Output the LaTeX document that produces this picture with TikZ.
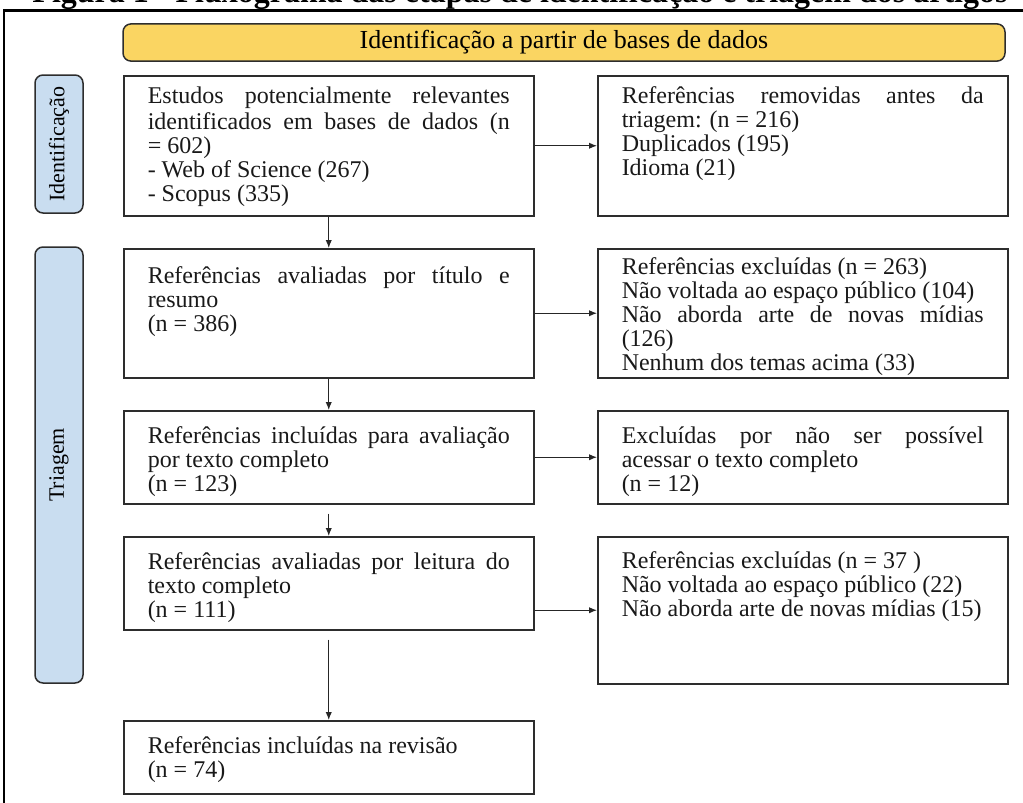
\documentclass[tikz,border=0pt]{standalone}
\usepackage{fontspec}
\setmainfont{Liberation Serif}
\usetikzlibrary{positioning, arrows.meta}

\definecolor{barfill}{RGB}{250,213,98}
\definecolor{sidefill}{RGB}{201,221,240}
\definecolor{edgegray}{RGB}{45,45,45}

% text block of a box: height, space above first line, text
\newcommand{\bxt}[3]{\parbox[t][#1][t]{181pt}{\vspace*{#2}\strut #3}}

\begin{document}
\begin{tikzpicture}[x=0.5pt, y=-0.5pt,
    prbox/.style={draw=edgegray, line width=0.75pt, inner xsep=12pt, inner ysep=0pt, anchor=north west, font=\fontsize{12}{12}\selectfont, text=black!90},
    sidelbl/.style={draw=edgegray, line width=0.75pt, fill=sidefill, rounded corners=4pt, rotate=90, minimum height=24pt, inner sep=0pt, font=\fontsize{11}{12}\selectfont},
    flow/.style={draw=black!85, line width=0.6pt, -{Latex[length=4pt,width=3.2pt]}}]
    \useasboundingbox (0,0) rectangle (1023,803);
    % frame and caption, cut by the page edge
    \node[font=\fontsize{16}{16}\selectfont\bfseries, anchor=base] (ttl) at (520,3) {Figura 1 - Fluxograma das etapas de identificação e triagem dos artigos};
    \draw[line width=1.4pt] (4,830) -- (4,10.5) -- (1040,10.5);
    \node[draw=edgegray, line width=0.75pt, fill=barfill, rounded corners=4pt, minimum width=441pt, minimum height=16.5pt, font=\fontsize{13}{13}\selectfont] (hd) at (564,42.5) {Identificação a partir de bases de dados};
    \node[sidelbl, minimum width=69pt] (lid) at (59,144) {Identificação};
    \node[sidelbl, minimum width=218pt] (ltr) at (59,465) {Triagem};
    % left column
    \node[prbox] (s1) at (123,75) {\bxt{70pt}{5.6pt}{Estudos potencialmente relevantes\linebreak identificados em bases de dados (n\linebreak = 602)\\ - Web of Science (267)\\ - Scopus (335)}};
    \node[prbox] (s2) at (123,248) {\bxt{64.5pt}{8.8pt}{Referências avaliadas por título e\linebreak resumo\\ (n = 386)}};
    \node[prbox] (s3) at (123,410) {\bxt{46.5pt}{8.1pt}{Referências incluídas para avaliação\linebreak por texto completo\\ (n = 123)}};
    \node[prbox] (s4) at (123,536) {\bxt{46.5pt}{8.1pt}{Referências avaliadas por leitura do\linebreak texto completo\\ (n = 111)}};
    \node[prbox] (s5) at (123,720) {\bxt{36.5pt}{8.1pt}{Referências incluídas na revisão\\ (n = 74)}};
    % right column
    \node[prbox] (x1) at (597,75) {\bxt{70pt}{5.6pt}{Referências removidas antes da\linebreak triagem: (n = 216)\\ Duplicados (195)\\ Idioma (21)}};
    \node[prbox] (x2) at (597,248) {\bxt{64.5pt}{4.5pt}{Referências excluídas (n = 263)\\ Não voltada ao espaço público (104)\\ Não aborda arte de novas mídias\linebreak (126)\\ Nenhum dos temas acima (33)}};
    \node[prbox] (x3) at (597,410) {\bxt{46.5pt}{8.1pt}{Excluídas por não ser possível\linebreak acessar o texto completo\\ (n = 12)}};
    \node[prbox] (x4) at (597,536) {\bxt{73.5pt}{7.6pt}{Referências excluídas (n = 37 )\\ Não voltada ao espaço público (22)\\ Não aborda arte de novas mídias (15)}};
    % arrows
    \draw[flow] (s1) -- (s2);
    \draw[flow] (s2) -- (s3);
    \draw[flow, shorten <=4.5pt] (s3) -- (s4);
    \draw[flow, shorten <=4.5pt] (s4) -- (s5);
    \foreach \a/\b in {s1/x1, s2/x2, s3/x3}
        \draw[flow] (\a) -- (\b);
    \draw[flow] (s4.east |- x4.west) -- (x4.west);
\end{tikzpicture}
\end{document}
